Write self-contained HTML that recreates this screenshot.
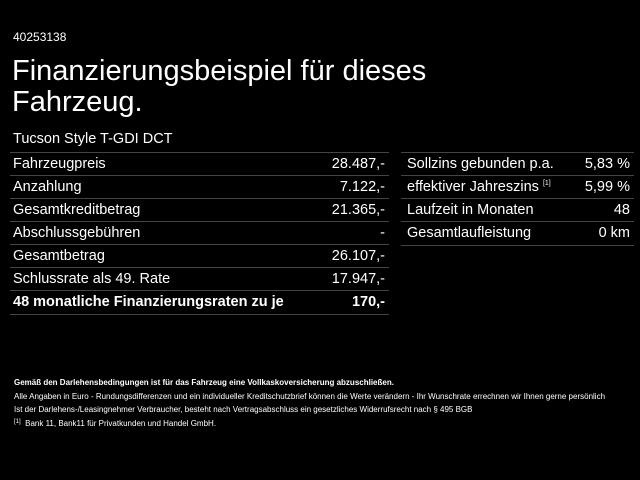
<!DOCTYPE html>
<html><head><meta charset="utf-8"><style>
body{margin:0;width:640px;height:480px;background:#000;color:#fff;font-family:"Liberation Sans",sans-serif;position:relative;overflow:hidden}
.a{position:absolute;white-space:nowrap}
.row{position:absolute;height:23px;border-top:1px solid #444;font-size:14.5px;line-height:22px}
.row span{position:absolute}
.r{right:4px}
.f{font-size:8px;position:absolute;left:14px;white-space:nowrap}
sup{line-height:0;vertical-align:6px}
</style></head><body>
<div class="a" style="left:13px;top:30px;font-size:12px">40253138</div>
<div class="a" style="left:12px;top:56px;font-size:29px;line-height:31px">Finanzierungsbeispiel für dieses<br>Fahrzeug.</div>
<div class="a" style="left:13px;top:131px;font-size:14.5px">Tucson Style T-GDI DCT</div>

<div class="row" style="left:10px;width:379px;top:152px"><span style="left:3px">Fahrzeugpreis</span><span class="r">28.487,-</span></div>
<div class="row" style="left:10px;width:379px;top:175px"><span style="left:3px">Anzahlung</span><span class="r">7.122,-</span></div>
<div class="row" style="left:10px;width:379px;top:198px"><span style="left:3px">Gesamtkreditbetrag</span><span class="r">21.365,-</span></div>
<div class="row" style="left:10px;width:379px;top:221px"><span style="left:3px">Abschlussgebühren</span><span class="r">-</span></div>
<div class="row" style="left:10px;width:379px;top:244px"><span style="left:3px">Gesamtbetrag</span><span class="r">26.107,-</span></div>
<div class="row" style="left:10px;width:379px;top:267px"><span style="left:3px">Schlussrate als 49. Rate</span><span class="r">17.947,-</span></div>
<div class="row" style="left:10px;width:379px;top:290px;font-weight:bold;border-bottom:1px solid #444"><span style="left:3px">48 monatliche Finanzierungsraten zu je</span><span class="r">170,-</span></div>

<div class="row" style="left:401px;width:233px;top:152px"><span style="left:6px">Sollzins gebunden p.a.</span><span class="r">5,83 %</span></div>
<div class="row" style="left:401px;width:233px;top:175px"><span style="left:6px">effektiver Jahreszins <sup style="font-size:7px">[1]</sup></span><span class="r">5,99 %</span></div>
<div class="row" style="left:401px;width:233px;top:198px"><span style="left:6px">Laufzeit in Monaten</span><span class="r">48</span></div>
<div class="row" style="left:401px;width:233px;top:221px;border-bottom:1px solid #444"><span style="left:6px">Gesamtlaufleistung</span><span class="r">0 km</span></div>

<div class="f" style="top:378px;font-weight:bold">Gemäß den Darlehensbedingungen ist für das Fahrzeug eine Vollkaskoversicherung abzuschließen.</div>
<div class="f" style="top:392px">Alle Angaben in Euro - Rundungsdifferenzen und ein individueller Kreditschutzbrief können die Werte verändern - Ihr Wunschrate errechnen wir Ihnen gerne persönlich</div>
<div class="f" style="top:405px">Ist der Darlehens-/Leasingnehmer Verbraucher, besteht nach Vertragsabschluss ein gesetzliches Widerrufsrecht nach § 495 BGB</div>
<div class="f" style="top:419px"><sup style="font-size:6px;vertical-align:3px">[1]</sup>&nbsp; Bank 11, Bank11 für Privatkunden und Handel GmbH.</div>
</body></html>
